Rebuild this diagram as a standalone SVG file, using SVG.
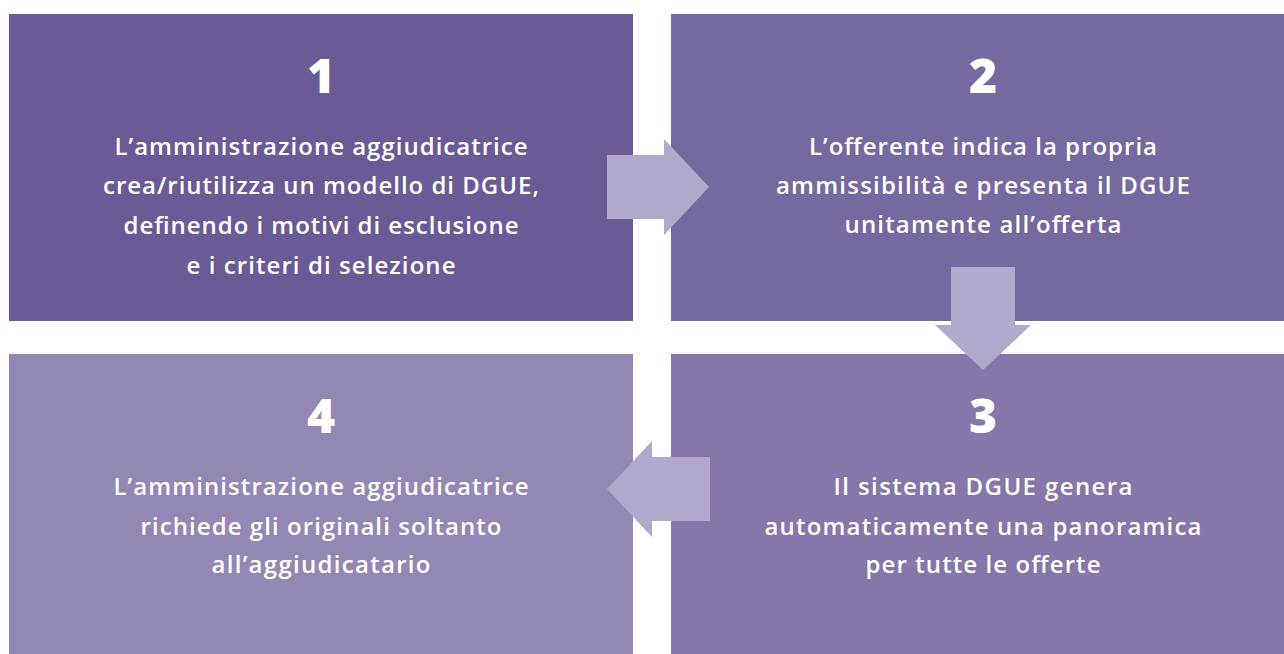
<svg xmlns="http://www.w3.org/2000/svg" width="1284" height="654" viewBox="0 0 1284 654">
<style>
.num{font-family:"Open Sans","Liberation Sans",sans-serif;font-weight:800;font-size:48px;fill:#fff;text-anchor:middle}
.t{font-family:"Open Sans","Liberation Sans",sans-serif;font-weight:600;font-size:24px;fill:#fff;text-anchor:middle}
.arr{fill:#b0a9cc}
</style>
<rect width="1284" height="654" fill="#fff"/>
<g id="node1">
<rect x="9" y="14" width="624" height="307" fill="#6a5b96"/>
<text class="num" x="321" y="93">1</text>
<text class="t" x="321" y="155" textLength="413" lengthAdjust="spacing">L’amministrazione aggiudicatrice</text>
<text class="t" x="321" y="194" textLength="436" lengthAdjust="spacing">crea/riutilizza un modello di DGUE,</text>
<text class="t" x="321" y="234" textLength="395" lengthAdjust="spacing">definendo i motivi di esclusione</text>
<text class="t" x="321" y="274" textLength="269" lengthAdjust="spacing">e i criteri di selezione</text>
</g>
<g id="node2">
<rect x="671" y="14" width="624" height="307" fill="#76699f"/>
<text class="num" x="983" y="93">2</text>
<text class="t" x="983" y="155" textLength="348" lengthAdjust="spacing">L’offerente indica la propria</text>
<text class="t" x="983" y="194" textLength="414" lengthAdjust="spacing">ammissibilità e presenta il DGUE</text>
<text class="t" x="983" y="233" textLength="277" lengthAdjust="spacing">unitamente all’offerta</text>
</g>
<g id="node3">
<rect x="671" y="354" width="624" height="300" fill="#8577a9"/>
<text class="num" x="983" y="433">3</text>
<text class="t" x="983" y="495" textLength="299" lengthAdjust="spacing">Il sistema DGUE genera</text>
<text class="t" x="983" y="535" textLength="437" lengthAdjust="spacing">automaticamente una panoramica</text>
<text class="t" x="983" y="573" textLength="235" lengthAdjust="spacing">per tutte le offerte</text>
</g>
<g id="node4">
<rect x="9" y="354" width="624" height="300" fill="#9388b4"/>
<text class="num" x="321" y="433">4</text>
<text class="t" x="321" y="495" textLength="415" lengthAdjust="spacing">L’amministrazione aggiudicatrice</text>
<text class="t" x="321" y="535" textLength="361" lengthAdjust="spacing">richiede gli originali soltanto</text>
<text class="t" x="321" y="573" textLength="219" lengthAdjust="spacing">all’aggiudicatario</text>
</g>
<g id="connectors">
<polygon class="arr" points="607,155 664,155 664,139 709,187 664,235 664,219 607,219"/>
<polygon class="arr" points="951,267 1015,267 1015,325 1031,325 983,370 935,325 951,325"/>
<polygon class="arr" points="710,457 652,457 652,441 607,489 652,537 652,521 710,521"/>
</g>
</svg>
